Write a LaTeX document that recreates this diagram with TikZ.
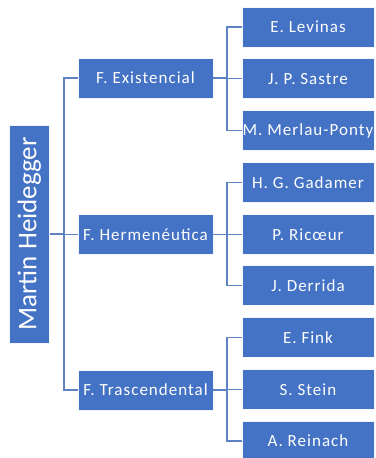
\documentclass[tikz,border=0pt]{standalone}
\usepackage{fontspec}
\setmainfont{Carlito}
\newfontfamily\boxfont[LetterSpace=6]{Carlito}
\begin{document}
\begin{tikzpicture}[x=1pt,y=-1pt,
  box/.style={draw=white!80!blue!20, line width=0.6pt, fill=boxblue, text=white,
    inner sep=0pt, font=\boxfont\fontsize{17}{20}\selectfont},
  midbox/.style={box, minimum width=135pt, minimum height=40pt},
  leafbox/.style={box, minimum width=132pt, minimum height=40pt},
  link/.style={draw=linkblue, line width=1.4pt}]
\definecolor{boxblue}{HTML}{4472C4}
\definecolor{linkblue}{HTML}{5F82C4}
\useasboundingbox (0,0) rectangle (375,458);

% root
\node[box, minimum width=40pt, minimum height=218pt] (root) at (29.3,234) {};
\node[rotate=90, text=white, font=\fontsize{27}{30}\selectfont] (rootlabel) at (root.center) {Martin Heidegger};

% branches
\node[midbox] (m1) at (145.5,78) {F. Existencial};
\node[midbox] (m2) at (145.5,234.5) {F. Hermenéutica};
\node[midbox] (m3) at (145.5,390) {F. Trascendental};

% authors
\node[leafbox] (l1) at (308,27) {E. Levinas};
\node[leafbox] (l2) at (308,78.75) {J. P. Sastre};
\node[leafbox] (l3) at (308,130.5) {M. Merlau-Ponty};
\node[leafbox] (l4) at (308,182.25) {H. G. Gadamer};
\node[leafbox] (l5) at (308,234.5) {P. Ricœur};
\node[leafbox] (l6) at (308,285.75) {J. Derrida};
\node[leafbox] (l7) at (308,337.5) {E. Fink};
\node[leafbox] (l8) at (308,389.25) {S. Stein};
\node[leafbox] (l9) at (308,441) {A. Reinach};

% forks
\coordinate (f0) at (64,234);
\coordinate (f1) at (227,78);
\coordinate (f2) at (227,234.5);
\coordinate (f3) at (227,390);

\draw[link] (root.east) -- (f0);
\foreach \m in {m1,m2,m3} \draw[link] (f0) |- (\m.west);

\draw[link] (m1.east) -- (f1);
\foreach \l in {l1,l2,l3} \draw[link] (f1) |- (\l.west);
\draw[link] (m2.east) -- (f2);
\foreach \l in {l4,l5,l6} \draw[link] (f2) |- (\l.west);
\draw[link] (m3.east) -- (f3);
\foreach \l in {l7,l8,l9} \draw[link] (f3) |- (\l.west);
\end{tikzpicture}
\end{document}
